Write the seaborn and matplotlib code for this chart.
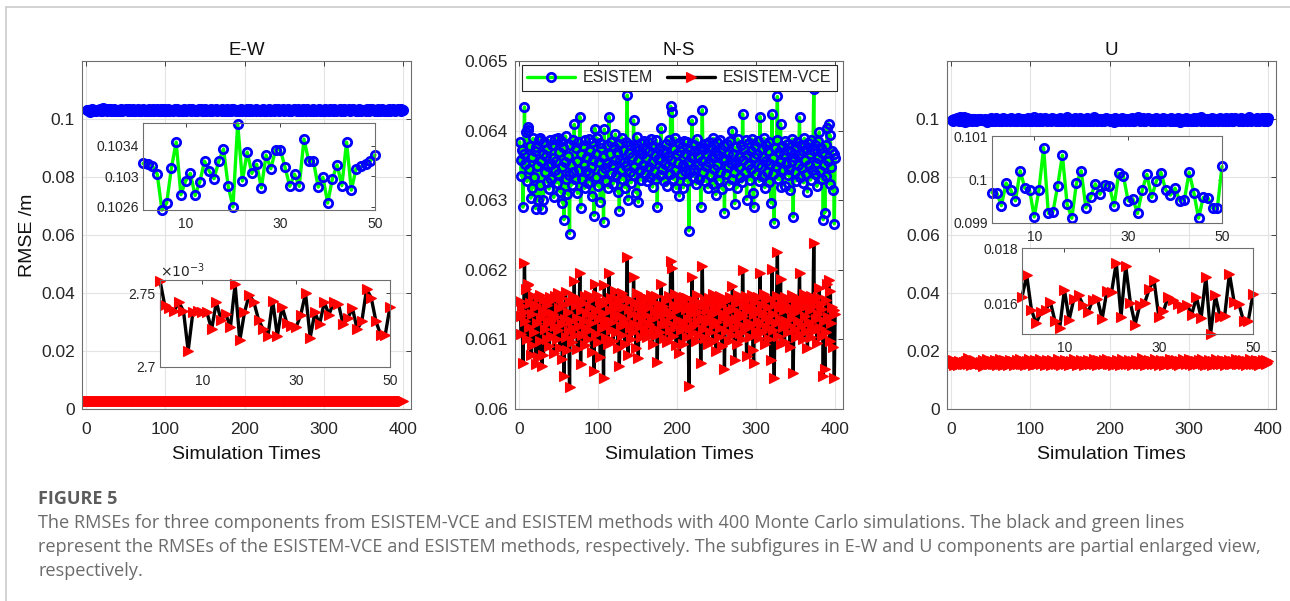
import numpy as np
import matplotlib
matplotlib.use("Agg")
import matplotlib.pyplot as plt
from matplotlib.lines import Line2D
from matplotlib.ticker import FuncFormatter
import seaborn as sns

# --- data: RMSE per simulation run (400 Monte Carlo runs) ---
# E-W, ESISTEM, units of 1e-5 m
ew_esistem = np.array([
    10317, 10316, 10314, 10303, 10256, 10265, 10311, 10345, 10276, 10294,
    10304, 10275, 10293, 10320, 10307, 10297, 10320, 10336, 10287, 10260,
    10369, 10294, 10332, 10304, 10316, 10285, 10328, 10310, 10335, 10335,
    10312, 10287, 10303, 10287, 10349, 10320, 10320, 10286, 10299, 10265,
    10297, 10315, 10288, 10345, 10282, 10310, 10313, 10316, 10320, 10328,
    10301, 10322, 10287, 10341, 10296, 10310, 10274, 10318, 10333, 10292, 10305, 10281, 10327, 10314, 10298, 10346, 10289, 10309, 10321, 10277,
    10312, 10334, 10295, 10303, 10268, 10319, 10326, 10290, 10308, 10342, 10299, 10283, 10316, 10305, 10330, 10271, 10311, 10324, 10297, 10338,
    10286, 10307, 10319, 10293, 10352, 10302, 10279, 10315, 10328, 10300, 10289, 10321, 10306, 10337, 10284, 10313, 10296, 10325, 10309, 10273,
    10318, 10331, 10294, 10306, 10347, 10288, 10312, 10299, 10326, 10281, 10304, 10317, 10291, 10340, 10308, 10276, 10322, 10301, 10314, 10329,
    10295, 10310, 10283, 10336, 10303, 10318, 10290, 10324, 10307, 10266, 10315, 10328, 10298, 10311, 10344, 10287, 10305, 10320, 10293, 10332,
    10300, 10278, 10316, 10309, 10327, 10292, 10313, 10339, 10285, 10304, 10321, 10297, 10310, 10351, 10282, 10317, 10302, 10325, 10294, 10308,
    10330, 10289, 10314, 10301, 10270, 10323, 10306, 10335, 10291, 10312, 10299, 10318, 10284, 10328, 10305, 10343, 10296, 10311, 10279, 10320,
    10307, 10326, 10293, 10315, 10302, 10338, 10287, 10309, 10322, 10298, 10313, 10275, 10331, 10304, 10319, 10290, 10345, 10301, 10316, 10283,
    10324, 10296, 10310, 10333, 10288, 10305, 10318, 10299, 10327, 10272, 10314, 10306, 10340, 10292, 10311, 10323, 10286, 10302, 10319, 10297,
    10336, 10284, 10308, 10321, 10300, 10315, 10263, 10329, 10303, 10317, 10294, 10342, 10309, 10288, 10325, 10301, 10313, 10296, 10334, 10280,
    10312, 10327, 10298, 10306, 10348, 10291, 10319, 10304, 10283, 10322, 10310, 10295, 10337, 10302, 10316, 10276, 10328, 10307, 10293, 10320,
    10299, 10314, 10285, 10331, 10308, 10321, 10290, 10303, 10344, 10296, 10311, 10279, 10326, 10305, 10318, 10292, 10339, 10300, 10315, 10287,
    10323, 10309, 10298, 10332, 10281, 10317, 10304, 10327, 10293, 10312, 10350, 10286, 10308, 10320, 10297, 10314, 10271, 10329, 10302, 10318,
    10291, 10306, 10335, 10299, 10313, 10284, 10324, 10310, 10296, 10341, 10303, 10289, 10319, 10307, 10328, 10278, 10315, 10300, 10322, 10294,
    10311, 10337, 10288, 10305, 10320, 10297, 10346, 10302, 10316, 10283, 10325, 10309, 10292, 10331, 10301, 10318, 10274, 10312, 10327, 10299,
    10306, 10321, 10290, 10334, 10303, 10315, 10285, 10328, 10310, 10296, 10343, 10300, 10317, 10281, 10324, 10308, 10293, 10330, 10305, 10319,
    10289, 10312, 10339, 10298, 10314, 10277, 10326, 10303, 10318, 10292, 10309, 10336, 10284, 10321, 10307, 10297, 10345, 10302, 10316, 10288,
    10323, 10310, 10295, 10333, 10301, 10317, 10282, 10328, 10306, 10314,
]) * 1e-5

# E-W, ESISTEM-VCE, units of 1e-3 m
ew_vce = np.array([
    2.7585, 2.742, 2.740, 2.738, 2.744, 2.738, 2.711, 2.737, 2.738, 2.737,
    2.737, 2.7255, 2.744, 2.732, 2.736, 2.727, 2.756, 2.718, 2.737, 2.749,
    2.744, 2.732, 2.7255, 2.721, 2.745, 2.721, 2.741, 2.730, 2.728, 2.727,
    2.7355, 2.750, 2.720, 2.737, 2.729, 2.744, 2.7355, 2.744, 2.743, 2.729,
    2.733, 2.740, 2.7255, 2.731, 2.7527, 2.747, 2.731, 2.722, 2.722, 2.741,
    2.738, 2.729, 2.746, 2.733, 2.721, 2.741, 2.736, 2.750, 2.727, 2.739, 2.732, 2.744, 2.718, 2.737, 2.742, 2.730, 2.735, 2.753, 2.726, 2.740,
    2.734, 2.747, 2.723, 2.738, 2.731, 2.745, 2.736, 2.715, 2.741, 2.733, 2.739, 2.728, 2.748, 2.735, 2.722, 2.743, 2.730, 2.737, 2.751, 2.729,
    2.740, 2.734, 2.719, 2.746, 2.736, 2.731, 2.744, 2.727, 2.738, 2.755, 2.733, 2.741, 2.724, 2.737, 2.745, 2.730, 2.739, 2.717, 2.742, 2.735,
    2.728, 2.749, 2.736, 2.732, 2.743, 2.721, 2.738, 2.746, 2.734, 2.729, 2.741, 2.752, 2.726, 2.737, 2.733, 2.744, 2.720, 2.739, 2.735, 2.747,
    2.731, 2.740, 2.725, 2.738, 2.754, 2.734, 2.742, 2.729, 2.736, 2.716, 2.745, 2.733, 2.739, 2.727, 2.748, 2.735, 2.730, 2.743, 2.722, 2.737,
    2.741, 2.732, 2.750, 2.728, 2.738, 2.744, 2.734, 2.719, 2.740, 2.736, 2.746, 2.731, 2.739, 2.724, 2.742, 2.735, 2.757, 2.729, 2.737, 2.733,
    2.745, 2.726, 2.740, 2.734, 2.748, 2.730, 2.738, 2.714, 2.743, 2.736, 2.732, 2.747, 2.727, 2.739, 2.735, 2.741, 2.723, 2.744, 2.731, 2.738,
    2.752, 2.733, 2.740, 2.728, 2.736, 2.745, 2.721, 2.737, 2.742, 2.730, 2.739, 2.749, 2.734, 2.726, 2.741, 2.735, 2.718, 2.743, 2.732, 2.738,
    2.746, 2.729, 2.740, 2.736, 2.753, 2.731, 2.737, 2.724, 2.744, 2.734, 2.739, 2.727, 2.742, 2.735, 2.750, 2.730, 2.738, 2.720, 2.745, 2.733,
    2.740, 2.736, 2.728, 2.747, 2.732, 2.741, 2.737, 2.715, 2.743, 2.735, 2.731, 2.748, 2.726, 2.739, 2.734, 2.744, 2.722, 2.738, 2.736, 2.751,
    2.729, 2.742, 2.733, 2.740, 2.725, 2.746, 2.735, 2.730, 2.743, 2.737, 2.756, 2.728, 2.739, 2.734, 2.719, 2.745, 2.732, 2.741, 2.736, 2.727,
    2.744, 2.738, 2.731, 2.749, 2.735, 2.723, 2.740, 2.733, 2.747, 2.729, 2.742, 2.736, 2.717, 2.739, 2.734, 2.746, 2.730, 2.743, 2.737, 2.752,
    2.726, 2.738, 2.741, 2.732, 2.745, 2.735, 2.721, 2.744, 2.730, 2.739, 2.736, 2.748, 2.728, 2.740, 2.733, 2.754, 2.731, 2.742, 2.725, 2.737,
    2.743, 2.734, 2.729, 2.746, 2.738, 2.716, 2.741, 2.735, 2.732, 2.750, 2.727, 2.739, 2.736, 2.744, 2.722, 2.740, 2.733, 2.747, 2.730, 2.738,
    2.745, 2.731, 2.737, 2.753, 2.734, 2.728, 2.742, 2.736, 2.720, 2.743, 2.739, 2.732, 2.748, 2.726, 2.741, 2.735, 2.744, 2.729, 2.738, 2.740,
    2.733, 2.749, 2.736, 2.724, 2.742, 2.731, 2.746, 2.737, 2.718, 2.744, 2.734, 2.739, 2.727, 2.751, 2.735, 2.730, 2.743, 2.738, 2.723, 2.741,
    2.736, 2.745, 2.732, 2.739, 2.728, 2.747, 2.734, 2.742, 2.755, 2.730, 2.737, 2.721, 2.744, 2.735, 2.740, 2.726, 2.748, 2.733, 2.738, 2.741,
    2.729, 2.736, 2.746, 2.734, 2.719, 2.743, 2.737, 2.731, 2.750, 2.739,
]) * 1e-3

# N-S, ESISTEM, units of 1e-5 m
ns_esistem = np.array([
    6384, 6358, 6335, 6372, 6290, 6366, 6434, 6352, 6398, 6327, 6401, 6405, 6345, 6378, 6303, 6362, 6318, 6389, 6334, 6371,
    6288, 6377, 6349, 6300, 6386, 6322, 6390, 6356, 6287, 6367, 6301, 6383, 6340, 6363, 6326, 6374, 6349, 6316, 6386, 6352,
    6330, 6380, 6361, 6304, 6388, 6344, 6357, 6325, 6390, 6338, 6369, 6312, 6385, 6347, 6296, 6376, 6272, 6355, 6392, 6330,
    6309, 6364, 6336, 6252, 6379, 6350, 6322, 6387, 6341, 6409, 6330, 6375, 6356, 6310, 6383, 6344, 6420, 6289, 6367, 6331,
    6378, 6351, 6317, 6386, 6342, 6362, 6325, 6388, 6339, 6371, 6348, 6306, 6383, 6358, 6278, 6403, 6333, 6366, 6389, 6320,
    6355, 6382, 6298, 6375, 6341, 6362, 6268, 6402, 6346, 6327, 6379, 6353, 6318, 6420, 6366, 6339, 6384, 6350, 6323, 6376,
    6358, 6395, 6336, 6369, 6312, 6381, 6285, 6358, 6344, 6390, 6330, 6372, 6355, 6318, 6384, 6349, 6451, 6300, 6368, 6341,
    6380, 6325, 6362, 6336, 6415, 6347, 6376, 6311, 6391, 6358, 6297, 6372, 6344, 6382, 6329, 6366, 6351, 6385, 6338, 6374,
    6360, 6328, 6383, 6347, 6370, 6334, 6388, 6355, 6319, 6378, 6342, 6365, 6331, 6386, 6290, 6359, 6374, 6336, 6361, 6404,
    6345, 6372, 6327, 6368, 6352, 6381, 6321, 6363, 6349, 6386, 6338, 6435, 6358, 6427, 6330, 6374, 6344, 6389, 6317, 6366,
    6353, 6382, 6306, 6370, 6338, 6376, 6350, 6318, 6385, 6342, 6367, 6328, 6384, 6355, 6256, 6372, 6341, 6362, 6415, 6334,
    6379, 6345, 6370, 6323, 6388, 6351, 6364, 6331, 6377, 6290, 6356, 6430, 6340, 6373, 6327, 6381, 6349, 6366, 6318, 6384,
    6355, 6336, 6376, 6362, 6323, 6389, 6345, 6371, 6308, 6383, 6350, 6365, 6329, 6386, 6341, 6374, 6316, 6360, 6379, 6282,
    6358, 6337, 6381, 6348, 6366, 6322, 6385, 6353, 6331, 6400, 6367, 6341, 6295, 6376, 6355, 6318, 6388, 6347, 6362, 6334,
    6379, 6326, 6424, 6358, 6373, 6340, 6386, 6301, 6365, 6350, 6382, 6329, 6371, 6345, 6388, 6310, 6290, 6362, 6378, 6337,
    6366, 6351, 6385, 6327, 6420, 6347, 6373, 6335, 6362, 6389, 6318, 6357, 6380, 6341, 6370, 6326, 6384, 6352, 6296, 6424,
    6360, 6338, 6267, 6375, 6349, 6387, 6449, 6330, 6369, 6355, 6410, 6319, 6378, 6343, 6366, 6321, 6385, 6352, 6372, 6336,
    6381, 6345, 6314, 6369, 6356, 6388, 6276, 6362, 6340, 6376, 6328, 6384, 6351, 6367, 6419, 6333, 6380, 6346, 6371, 6325,
    6389, 6358, 6337, 6374, 6312, 6382, 6350, 6366, 6329, 6387, 6344, 6372, 6460, 6338, 6379, 6354, 6320, 6385, 6361, 6398,
    6342, 6375, 6330, 6368, 6272, 6351, 6282, 6380, 6335, 6404, 6357, 6410, 6323, 6393, 6348, 6371, 6314, 6366, 6266, 6360,
]) * 1e-5

# N-S, ESISTEM-VCE, units of 1e-5 m
ns_vce = np.array([
    6155, 6133, 6108, 6148, 6066, 6140, 6210, 6127, 6172, 6100, 6178, 6180, 6118, 6152, 6078, 6137, 6092, 6163, 6110, 6146,
    6065, 6150, 6124, 6075, 6160, 6098, 6164, 6131, 6062, 6142, 6077, 6158, 6115, 6138, 6101, 6149, 6124, 6090, 6161, 6127,
    6105, 6156, 6136, 6080, 6162, 6119, 6132, 6100, 6166, 6113, 6145, 6088, 6160, 6122, 6072, 6151, 6048, 6130, 6168, 6104,
    6085, 6139, 6112, 6032, 6154, 6126, 6096, 6163, 6116, 6184, 6106, 6150, 6131, 6086, 6158, 6119, 6195, 6064, 6142, 6107,
    6153, 6127, 6092, 6162, 6117, 6137, 6101, 6164, 6114, 6147, 6123, 6082, 6158, 6133, 6055, 6180, 6108, 6141, 6164, 6096,
    6130, 6157, 6074, 6150, 6116, 6138, 6045, 6178, 6121, 6102, 6155, 6128, 6093, 6196, 6142, 6114, 6160, 6125, 6098, 6151,
    6133, 6170, 6111, 6145, 6088, 6156, 6062, 6133, 6119, 6166, 6106, 6147, 6130, 6094, 6160, 6124, 6218, 6077, 6143, 6116,
    6156, 6101, 6137, 6111, 6190, 6122, 6152, 6087, 6167, 6133, 6073, 6148, 6119, 6157, 6104, 6142, 6126, 6161, 6113, 6149,
    6135, 6103, 6158, 6122, 6146, 6109, 6164, 6130, 6094, 6154, 6117, 6141, 6106, 6162, 6067, 6134, 6150, 6111, 6137, 6180,
    6120, 6148, 6102, 6144, 6127, 6157, 6096, 6139, 6124, 6162, 6113, 6212, 6133, 6203, 6105, 6150, 6119, 6165, 6092, 6142,
    6128, 6158, 6081, 6146, 6113, 6152, 6125, 6093, 6161, 6117, 6143, 6103, 6160, 6130, 6033, 6148, 6116, 6137, 6190, 6109,
    6155, 6120, 6146, 6098, 6164, 6126, 6140, 6106, 6153, 6066, 6131, 6205, 6115, 6149, 6102, 6157, 6124, 6142, 6093, 6160,
    6130, 6111, 6152, 6137, 6098, 6165, 6120, 6147, 6083, 6159, 6125, 6141, 6104, 6162, 6116, 6150, 6091, 6135, 6155, 6058,
    6133, 6112, 6157, 6123, 6142, 6097, 6161, 6128, 6106, 6177, 6143, 6116, 6070, 6152, 6130, 6093, 6164, 6122, 6138, 6109,
    6155, 6101, 6200, 6133, 6149, 6115, 6162, 6076, 6141, 6125, 6158, 6104, 6147, 6120, 6164, 6085, 6066, 6137, 6154, 6112,
    6142, 6126, 6161, 6102, 6196, 6122, 6149, 6110, 6138, 6165, 6093, 6132, 6156, 6116, 6146, 6101, 6160, 6127, 6071, 6201,
    6136, 6113, 6044, 6151, 6124, 6163, 6226, 6105, 6145, 6130, 6187, 6094, 6154, 6118, 6142, 6096, 6161, 6127, 6148, 6111,
    6157, 6120, 6089, 6145, 6131, 6164, 6052, 6138, 6115, 6152, 6103, 6160, 6126, 6143, 6195, 6108, 6156, 6121, 6147, 6100,
    6165, 6133, 6112, 6150, 6087, 6158, 6125, 6142, 6104, 6163, 6119, 6148, 6238, 6113, 6155, 6129, 6095, 6161, 6136, 6174,
    6117, 6151, 6105, 6144, 6048, 6126, 6058, 6156, 6110, 6180, 6132, 6185, 6098, 6169, 6123, 6147, 6089, 6142, 6044, 6136,
]) * 1e-5

# U, ESISTEM, units of 1e-5 m
u_esistem = np.array([
    9970, 9970, 9940, 9992, 9976, 9951, 10020, 9980, 9976, 9914,
    9976, 10073, 9922, 9926, 9986, 10056, 9943, 9911, 9992, 10020,
    9935, 9959, 9990, 9966, 9988, 9986, 9939, 10014, 10008, 9951,
    9956, 9922, 9975, 10012, 9959, 9996, 10016, 9976, 9964, 9980,
    9951, 9954, 10017, 9970, 9911, 9959, 9958, 9934, 9934, 10030,
    9985, 9948, 10005, 9962, 9931, 9978, 10041, 9957, 9990, 9924, 9968, 10012, 9945, 9981, 9936, 10028, 9960, 9973, 9918, 9995,
    9952, 10003, 9967, 9929, 9984, 10047, 9956, 9972, 9940, 10009, 9963, 9989, 9921, 9977, 10022, 9950, 9969, 9934, 9998, 9961,
    10015, 9943, 9982, 9958, 9927, 9991, 10036, 9965, 9947, 9976, 10006, 9938, 9970, 9953, 10061, 9966, 9930, 9987, 9959, 9974,
    9942, 10019, 9962, 9984, 9915, 9979, 9999, 9951, 10032, 9967, 9937, 9975, 10010, 9955, 9983, 9928, 9964, 10044, 9949, 9971,
    9988, 9933, 10002, 9960, 9976, 9920, 10025, 9957, 9980, 9946, 10013, 9968, 9939, 9993, 9954, 10052, 9963, 9926, 9985, 9958,
    9972, 10007, 9944, 9978, 9931, 10038, 9961, 9989, 9950, 9916, 9997, 9966, 10020, 9941, 9975, 9958, 10004, 9934, 9982, 9969,
    9947, 10029, 9956, 9990, 9923, 9973, 10011, 9960, 9944, 9986, 10058, 9952, 9977, 9932, 9968, 10001, 9957, 9991, 9921, 9979,
    9964, 10016, 9938, 9983, 9955, 10034, 9962, 9949, 9996, 9927, 9971, 10008, 9945, 9980, 9959, 9912, 10023, 9965, 9987, 9942,
    9976, 10003, 9953, 9969, 9936, 10046, 9961, 9984, 9924, 9978, 9998, 9950, 10014, 9967, 9940, 9992, 9958, 10031, 9946, 9973,
    9930, 10009, 9966, 9981, 9954, 10063, 9962, 9937, 9988, 9957, 9972, 10019, 9943, 9979, 9925, 10002, 9968, 9951, 10040, 9960,
    9985, 9934, 9974, 10012, 9948, 9990, 9917, 9967, 10027, 9956, 9982, 9944, 10005, 9963, 9978, 9929, 10050, 9959, 9971, 9939,
    9994, 9952, 10017, 9964, 9986, 9921, 9975, 10036, 9947, 9969, 9958, 10008, 9935, 9983, 9962, 10024, 9950, 9977, 9913, 9989,
    9966, 10011, 9942, 9980, 9955, 10043, 9961, 9932, 9997, 9968, 9974, 10003, 9946, 9987, 9928, 10030, 9957, 9979, 9941, 9992,
    9960, 10021, 9949, 9972, 9937, 10055, 9965, 9984, 9923, 9976, 10009, 9953, 9988, 9945, 10016, 9962, 9970, 9931, 10039, 9956,
    9981, 9940, 10006, 9967, 9951, 9993, 9919, 9978, 10028, 9959, 9973, 9943, 10014, 9964, 9985, 9927, 10047, 9955, 9971, 9938,
    9996, 9961, 10019, 9948, 9982, 9934, 9975, 10033, 9957, 9969, 9952, 10004, 9940, 9986, 9963, 10025, 9946, 9979, 9916, 9990,
    9968, 10012, 9944, 9983, 9958, 10059, 9962, 9936, 9999, 9965, 9977, 10007, 9949, 9984, 9930, 10037, 9960, 9973, 9942, 9995,
    9955, 10018, 9966, 9980, 9939, 10048, 9963, 9985, 9926, 10030,
]) * 1e-5

# U, ESISTEM-VCE, units of 1e-5 m
u_vce = np.array([
    1623, 1702, 1577, 1528, 1568, 1575, 1607, 1536, 1512, 1650,
    1541, 1617, 1629, 1593, 1568, 1613, 1617, 1544, 1645, 1641,
    1747, 1553, 1735, 1601, 1524, 1596, 1601, 1653, 1686, 1553,
    1572, 1623, 1611, 1599, 1584, 1596, 1560, 1623, 1548, 1696,
    1490, 1629, 1553, 1556, 1708, 1605, 1599, 1536, 1538, 1633,
    1582, 1648, 1537, 1611, 1690, 1559, 1620, 1503, 1664, 1595, 1571, 1722, 1546, 1608, 1633, 1518, 1677, 1589, 1614, 1560,
    1641, 1527, 1598, 1705, 1566, 1619, 1584, 1656, 1510, 1603, 1637, 1575, 1692, 1549, 1615, 1580, 1727, 1541, 1606, 1628,
    1563, 1672, 1594, 1531, 1617, 1650, 1586, 1711, 1554, 1609, 1578, 1641, 1505, 1625, 1597, 1683, 1568, 1612, 1539, 1660,
    1590, 1733, 1552, 1604, 1629, 1573, 1645, 1520, 1616, 1599, 1687, 1558, 1621, 1581, 1649, 1533, 1610, 1700, 1565, 1593,
    1636, 1547, 1618, 1579, 1740, 1561, 1602, 1627, 1514, 1655, 1588, 1611, 1570, 1695, 1542, 1624, 1598, 1662, 1530, 1607,
    1583, 1644, 1556, 1619, 1718, 1574, 1603, 1637, 1525, 1667, 1592, 1614, 1548, 1681, 1578, 1609, 1634, 1507, 1652, 1596,
    1620, 1566, 1702, 1589, 1613, 1543, 1658, 1601, 1576, 1729, 1553, 1617, 1630, 1519, 1674, 1594, 1606, 1568, 1641, 1585,
    1612, 1536, 1689, 1572, 1625, 1597, 1713, 1560, 1608, 1549, 1646, 1582, 1619, 1502, 1663, 1591, 1628, 1571, 1696, 1555,
    1604, 1639, 1528, 1615, 1580, 1735, 1567, 1611, 1594, 1652, 1540, 1622, 1586, 1679, 1562, 1606, 1633, 1513, 1657, 1598,
    1617, 1573, 1706, 1588, 1610, 1546, 1669, 1595, 1625, 1558, 1743, 1579, 1603, 1634, 1521, 1648, 1592, 1615, 1565, 1685,
    1574, 1609, 1638, 1552, 1620, 1585, 1719, 1561, 1607, 1597, 1660, 1534, 1616, 1589, 1692, 1569, 1612, 1627, 1508, 1654,
    1600, 1642, 1557, 1618, 1583, 1730, 1566, 1605, 1548, 1673, 1593, 1622, 1577, 1699, 1541, 1611, 1636, 1526, 1664, 1590,
    1614, 1570, 1708, 1586, 1629, 1551, 1650, 1602, 1579, 1724, 1558, 1617, 1595, 1680, 1532, 1606, 1640, 1563, 1655, 1584,
    1621, 1545, 1694, 1575, 1610, 1599, 1737, 1560, 1604, 1531, 1666, 1592, 1624, 1572, 1689, 1556, 1613, 1635, 1516, 1658,
    1597, 1620, 1568, 1712, 1581, 1608, 1547, 1671, 1594, 1627, 1562, 1702, 1578, 1611, 1639, 1523, 1661, 1589, 1616, 1571,
    1683, 1554, 1607, 1632, 1540, 1668, 1596, 1619, 1580, 1726, 1565, 1603, 1550, 1676, 1591, 1625, 1574, 1697, 1543, 1612,
    1637, 1529, 1653, 1599, 1614, 1576, 1715, 1559, 1608, 1594, 1663, 1538, 1621, 1587, 1690, 1567, 1610, 1641, 1510, 1659,
    1601, 1632, 1570, 1705, 1584, 1618, 1552, 1674, 1596, 1646,
]) * 1e-5

n_zoom = 50  # runs shown in the enlarged views

caption_title = "FIGURE 5"
caption_lines = [
    "The RMSEs for three components from ESISTEM-VCE and ESISTEM methods with 400 Monte Carlo simulations. The black and green lines",
    "represent the RMSEs of the ESISTEM-VCE and ESISTEM methods, respectively. The subfigures in E-W and U components are partial enlarged view,",
    "respectively.",
]

# --- style ---
sns.set_style("white")
plt.rcParams['font.family'] = ['Liberation Sans', 'DejaVu Sans']

W, H = 1290, 601
fig = plt.figure(figsize=(W / 100, H / 100), dpi=100)

GREEN = dict(color='#00ff00', linewidth=2.4, marker='o', markersize=6,
             markerfacecolor='none', markeredgecolor='blue', markeredgewidth=2.0)
BLACK = dict(color='black', linewidth=2.4, marker='>', markersize=7,
             markerfacecolor='red', markeredgecolor='red', markeredgewidth=0.8)


def px_axes(x0, y0, x1, y1):
    # pixel box (left, top, right, bottom) -> figure axes
    return fig.add_axes([x0 / W, 1 - y1 / H, (x1 - x0) / W, (y1 - y0) / H])


def style(ax, size, grid, pad=5):
    ax.tick_params(direction='in', top=True, right=True, length=3.5, width=0.6,
                   labelsize=size, colors='#262626', pad=pad)
    for s in ax.spines.values():
        s.set_color('#6e6e6e')
        s.set_linewidth(0.8)
    if grid:
        ax.grid(True, color='#e3e3e3', linewidth=0.8)
        ax.set_axisbelow(True)
    ax.yaxis.set_major_formatter(FuncFormatter(lambda v, p: f"{v:g}"))


def draw(ax, y, kws, label=None, clip=True):
    x = np.arange(1, len(y) + 1)
    sns.lineplot(x=x, y=y, ax=ax, errorbar=None, label=label, legend=False, **kws)
    if not clip:
        for ln in ax.lines:
            ln.set_clip_on(False)


main_boxes = [(82, 61, 411, 409), (515, 61, 843, 409), (947, 61, 1276, 409)]
titles = ["E-W", "N-S", "U"]
series = [(ew_esistem, ew_vce), (ns_esistem, ns_vce), (u_esistem, u_vce)]

for i, (box, title, (g, b)) in enumerate(zip(main_boxes, titles, series)):
    ax = px_axes(*box)
    draw(ax, g, GREEN, label="ESISTEM")
    draw(ax, b, BLACK, label="ESISTEM-VCE")
    ax.set_xlim(-5, 410)
    ax.set_xticks([0, 100, 200, 300, 400])
    if i == 1:
        ax.set_ylim(0.06, 0.065)
        ax.set_yticks(np.arange(0.060, 0.0651, 0.001))
    else:
        ax.set_ylim(0, 0.12)
        ax.set_yticks([0, 0.02, 0.04, 0.06, 0.08, 0.1])
    style(ax, 12.5, True)
    ax.tick_params(axis='x', pad=9)
    ax.set_title(title, fontsize=13.5, color='#111111', pad=4)
    ax.set_xlabel("Simulation Times", fontsize=14, color='#111111', labelpad=7)
    if i == 0:
        ax.set_ylabel("RMSE /m", fontsize=14, color='#111111', labelpad=4)
    else:
        ax.set_ylabel("")
    if i == 1:
        leg = ax.legend(loc='upper left', ncol=2, bbox_to_anchor=(0.021, 0.989),
                        fontsize=11.5, frameon=True, fancybox=False, framealpha=1,
                        edgecolor='#262626', handlelength=3.0, handletextpad=0.45,
                        columnspacing=0.9, borderpad=0.35, borderaxespad=0.0)
        leg.get_frame().set_linewidth(0.8)


def inset(box, y, kws, ylim, yticks, ylabels):
    ax = px_axes(*box)
    draw(ax, y[:n_zoom], kws, clip=False)
    ax.set_xlim(1, n_zoom)
    ax.set_ylim(*ylim)
    ax.set_xticks([10, 30, 50])
    ax.set_yticks(yticks)
    style(ax, 10, False, pad=3)
    ax.set_yticklabels(ylabels)
    ax.set_xlabel("")
    ax.set_ylabel("")
    ax.tick_params(length=3)
    ax.tick_params(axis='x', pad=5)
    return ax


inset((143, 123, 375, 210), ew_esistem, GREEN, (0.10256, 0.1037),
      [0.1026, 0.1030, 0.1034], ["0.1026", "0.103", "0.1034"])
ax_r = inset((160, 280, 390, 367), ew_vce, BLACK, (0.0027, 0.002759),
             [0.0027, 0.00275], ["2.7", "2.75"])
ax_r.text(0.0, 1.0, r"$\times10^{-3}$", transform=ax_r.transAxes, ha='left',
          va='bottom', fontsize=10, color='#262626')
inset((992, 136, 1222, 223), u_esistem, GREEN, (0.099, 0.101),
      [0.099, 0.100, 0.101], ["0.099", "0.1", "0.101"])
inset((1022, 248, 1253, 334), u_vce, BLACK, (0.0149, 0.018),
      [0.016, 0.018], ["0.016", "0.018"])

# card frame lines
fig.add_artist(Line2D([6 / W, 1], [1 - 7 / H, 1 - 7 / H], color='#cccccc', linewidth=1.2))
fig.add_artist(Line2D([6 / W, 6 / W], [0, 1 - 7 / H], color='#cccccc', linewidth=1.2))

# caption
cap_font = ['Open Sans', 'DejaVu Sans']
fig.text(38 / W, 1 - 504 / H, caption_title, fontsize=13, fontweight='bold',
         color='#5c5c5c', family=cap_font, va='baseline', ha='left')
baselines = [528, 552, 576]
line_ends = [1217, 1258, None]
texts = []
for line, yb in zip(caption_lines, baselines):
    texts.append(fig.text(38 / W, 1 - yb / H, line, fontsize=11.5, color='#6b6b6b',
                          family=cap_font, va='baseline', ha='left'))
fig.canvas.draw()
rend = fig.canvas.get_renderer()
scale = min((end - 38) / t.get_window_extent(rend).width
            for t, end in zip(texts, line_ends) if end is not None)
for t in texts:
    t.set_fontsize(11.5 * scale)

fig.savefig("out.png", dpi=100)
